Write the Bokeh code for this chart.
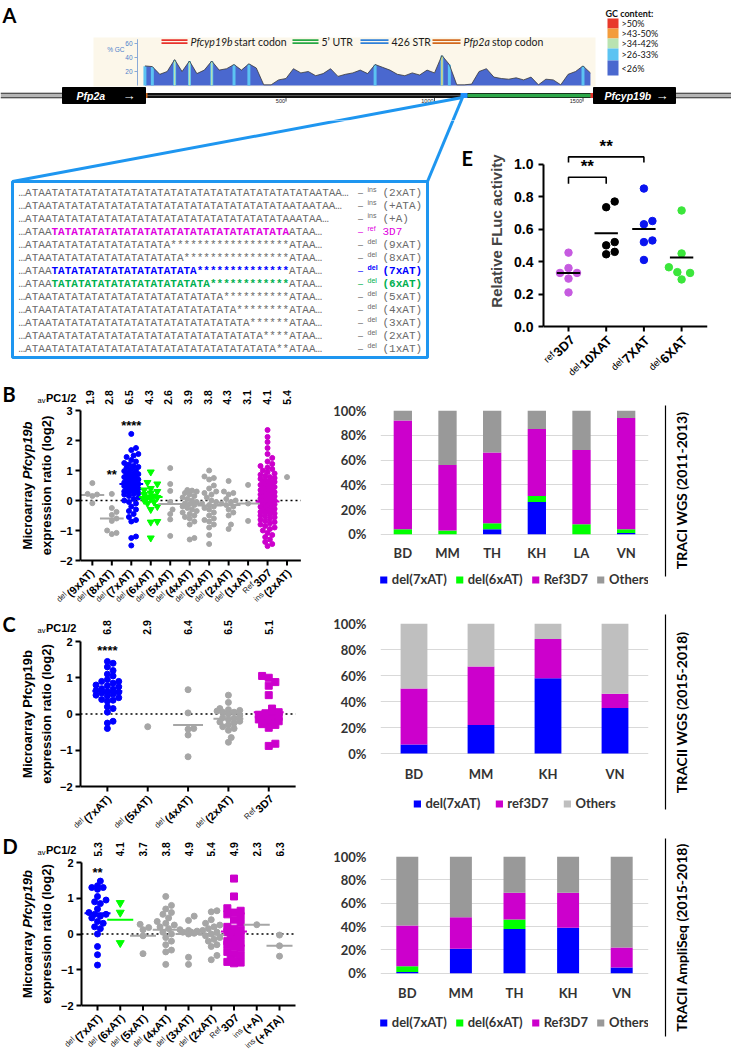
import math
from bokeh.plotting import figure
from bokeh.models import (Range1d, FactorRange, FixedTicker, Label,
                          NumeralTickFormatter, Legend, LegendItem, ColumnDataSource)
from bokeh.layouts import column, row
from bokeh.embed import file_html
from bokeh.resources import INLINE
from bokeh.core.properties import value

SANS = "Liberation Sans"
LATO = "Lato"
MONO = "Liberation Mono"

# ======================= DATA =======================
# --- Panel A: GC content profile (bp position, % GC)
gc_pos = [25, 50, 75, 100, 125, 150, 175, 200, 225, 250, 275, 300, 325, 350, 375, 400,
          425, 450, 475, 500, 525, 550, 575, 600, 625, 650, 675, 700, 725, 750, 775, 800,
          825, 850, 875, 900, 925, 950, 975, 1000, 1025, 1050, 1075, 1100, 1125, 1150,
          1175, 1200, 1225, 1250, 1275, 1300, 1325, 1350, 1375, 1400, 1425, 1450, 1475,
          1500, 1525]
gc_val = [28, 27, 16, 20, 37, 20, 35, 17, 22, 35, 22, 24, 30, 22, 31, 25, 1, 1, 8, 10,
          24, 18, 20, 14, 17, 24, 13, 16, 18, 22, 17, 30, 26, 22, 16, 14, 18, 15, 22, 18,
          43, 30, 1, 1, 2, 20, 24, 12, 10, 9, 11, 8, 12, 1, 9, 8, 1, 16, 20, 28, 18]
gc_ticks = [20, 40, 60]
ruler_bp = [500, 1000, 1500]
gc_legend_labels = [">50%", ">43-50%", ">34-42%", ">26-33%", "<26%"]
gc_legend_colors = ["#E8392A", "#F39C3C", "#B9E3B1", "#5CC3F2", "#4A68CF"]
feat_italic = ["Pfcyp19b", "", "", "Pfp2a"]
feat_rest = ["start codon", "5\u2019 UTR", "426 STR", "stop codon"]
feat_colors = ["#E8322C", "#27A844", "#2F80D8", "#D2691E"]

seq_tags = ["ins", "ins", "ins", "ref", "del", "del", "del", "del", "del", "del", "del", "del", "del"]
seq_names = ["(2xAT)", "(+ATA)", "(+A)", "3D7", "(9xAT)", "(8xAT)", "(7xAT)", "(6xAT)",
             "(5xAT)", "(4xAT)", "(3xAT)", "(2xAT)", "(1xAT)"]
seq_strings = [
    "\u2026ATAA" + "TA" * 20 + "ATAA\u2026",
    "\u2026ATAA" + "TA" * 18 + "ATAATAA\u2026",
    "\u2026ATAA" + "TA" * 18 + "AATAA\u2026",
    "\u2026ATAA" + "TA" * 18 + "ATAA\u2026",
    "\u2026ATAA" + "TA" * 9 + "*" * 18 + "ATAA\u2026",
    "\u2026ATAA" + "TA" * 10 + "*" * 16 + "ATAA\u2026",
    "\u2026ATAA" + "TA" * 11 + "*" * 14 + "ATAA\u2026",
    "\u2026ATAA" + "TA" * 12 + "*" * 12 + "ATAA\u2026",
    "\u2026ATAA" + "TA" * 13 + "*" * 10 + "ATAA\u2026",
    "\u2026ATAA" + "TA" * 14 + "*" * 8 + "ATAA\u2026",
    "\u2026ATAA" + "TA" * 15 + "*" * 6 + "ATAA\u2026",
    "\u2026ATAA" + "TA" * 16 + "*" * 4 + "ATAA\u2026",
    "\u2026ATAA" + "TA" * 17 + "*" * 2 + "ATAA\u2026",
]
seq_colors = [None, None, None, "#E000E0", None, None, "#0000FF", "#00B050", None, None, None, None, None]

# --- Panel E: relative FLuc activity
e_tags = ["ref", "del", "del", "del"]
e_names = ["3D7", "10XAT", "7XAT", "6XAT"]
e_ref3D7 = [0.455, 0.36, 0.33, 0.33, 0.295, 0.21]
e_del10XAT = [0.77, 0.735, 0.52, 0.50, 0.46, 0.445]
e_del7XAT = [0.85, 0.65, 0.63, 0.53, 0.52, 0.41]
e_del6XAT = [0.715, 0.45, 0.365, 0.335, 0.33, 0.29]
e_means = [0.33, 0.575, 0.60, 0.425]
e_colors = ["#C65BE0", "#000000", "#0A14F0", "#3BE63B"]

# --- Panel B: TRACI WGS microarray expression (log2)
b_tags = ["del", "del", "del", "del", "del", "del", "del", "del", "del", "Ref", "ins"]
b_names = ["(9xAT)", "(8xAT)", "(7xAT)", "(6xAT)", "(5xAT)", "(4xAT)", "(3xAT)", "(2xAT)", "(1xAT)", "3D7", "(2xAT)"]
b_del9 = [0.58, 0.22, 0.20, 0.15, -0.09]
b_del8 = [0.22, -0.25, -0.38, -0.48, -0.60, -0.68, -1.00, -1.08, -1.12]
b_del7 = [2.22, 1.75, 1.68, 1.55, 1.50, 1.45, 1.35, 1.30, 1.25, 1.20, 1.15, 1.12, 1.10, 1.05,
          1.00, 0.98, 0.95, 0.90, 0.88, 0.85, 0.82, 0.80, 0.78, 0.75, 0.72, 0.70, 0.68, 0.65,
          0.62, 0.60, 0.58, 0.56, 0.55, 0.54, 0.52, 0.50, 0.48, 0.45, 0.42, 0.40, 0.38, 0.35,
          0.32, 0.30, 0.28, 0.25, 0.22, 0.20, 0.15, 0.10, 0.05, 0.00, -0.05, -0.10, -0.20,
          -0.30, -0.35, -0.45, -0.55, -0.65, -0.70, -1.20, -1.25, -1.50]
b_del6 = [0.95, 0.60, 0.55, 0.40, 0.35, 0.30, 0.25, 0.20, 0.15, 0.12, 0.10, 0.05, 0.00,
          -0.05, -0.10, -0.20, -0.30, -0.70, -0.72, -1.25]
b_del5 = [1.08, 0.55, 0.32, -0.05, -0.30, -0.45, -0.63, -1.18]
b_del4 = [0.35, 0.33, 0.30, 0.25, 0.20, 0.15, 0.10, 0.05, 0.00, -0.05, -0.10, -0.12, -0.15,
          -0.20, -0.25, -0.30, -0.35, -0.40, -0.45, -0.50, -0.55, -0.60, -0.70, -0.80, -1.25, -1.30]
b_del3 = [1.00, 0.80, 0.75, 0.70, 0.50, 0.40, 0.30, 0.25, 0.20, 0.10, 0.00, -0.05, -0.10,
          -0.15, -0.20, -0.25, -0.30, -0.40, -0.50, -0.60, -0.65, -0.70, -0.80, -0.90, -1.15, -1.45]
b_del2 = [0.65, 0.30, 0.25, 0.20, 0.05, 0.00, -0.05, -0.10, -0.15, -0.20, -0.30, -0.40, -0.50, -0.80, -0.95]
b_del1 = [0.52, -0.10, -0.68]
b_ref3D7 = [2.35, 2.12, 1.95, 1.75, 1.55, 1.42, 1.30, 1.22, 1.15, 1.10, 1.05, 1.00, 0.95, 0.90,
            0.86, 0.82, 0.78, 0.75, 0.72, 0.68, 0.65, 0.62, 0.60, 0.57, 0.55, 0.52, 0.50, 0.48,
            0.45, 0.43, 0.40, 0.38, 0.35, 0.33, 0.30, 0.28, 0.26, 0.24, 0.22, 0.20, 0.18, 0.16,
            0.14, 0.12, 0.10, 0.08, 0.06, 0.04, 0.02, 0.00, -0.02, -0.03, -0.05, -0.07, -0.09,
            -0.11, -0.13, -0.15, -0.17, -0.19, -0.21, -0.23, -0.25, -0.28, -0.30, -0.33, -0.35,
            -0.38, -0.40, -0.43, -0.46, -0.50, -0.53, -0.56, -0.60, -0.64, -0.68, -0.72, -0.76,
            -0.80, -0.85, -0.90, -0.95, -1.00, -1.08, -1.15, -1.22, -1.30, -1.38, -1.45, -1.52]
b_ins2 = [0.78]
b_medians = [0.18, -0.60, 0.55, 0.12, -0.12, -0.12, -0.17, -0.15, -0.10, -0.03, None]
b_avpc = ["1.9", "2.8", "6.5", "4.3", "2.6", "3.9", "3.8", "4.3", "3.1", "4.1", "5.4"]

# --- Panel C: TRACII WGS
c_tags = ["del", "del", "del", "del", "Ref"]
c_names = ["(7xAT)", "(5xAT)", "(4xAT)", "(2xAT)", "3D7"]
c_del7 = [1.45, 1.40, 1.30, 1.20, 1.10, 1.05, 0.95, 0.90, 0.90, 0.85, 0.80, 0.78, 0.75, 0.70,
          0.68, 0.65, 0.62, 0.60, 0.58, 0.55, 0.52, 0.50, 0.45, 0.40, 0.38, 0.35, 0.20, 0.15,
          0.05, -0.20, -0.25, -0.40]
c_del5 = [-0.35]
c_del4 = [0.67, 0.03, -0.40, -0.42, -0.58, -1.18]
c_del2 = [0.52, 0.32, 0.15, 0.12, 0.10, 0.08, 0.05, 0.05, 0.00, -0.05, -0.10, -0.12, -0.15,
          -0.20, -0.22, -0.25, -0.30, -0.35, -0.40, -0.45, -0.65, -0.78]
c_ref3D7 = [1.05, 1.00, 0.88, 0.78, 0.52, 0.15, 0.05, 0.02, 0.00, -0.02, -0.05, -0.08, -0.10,
            -0.12, -0.15, -0.20, -0.25, -0.28, -0.30, -0.38, -0.82, -0.88]
c_medians = [0.63, None, -0.30, -0.13, 0.05]
c_avpc = ["6.8", "2.9", "6.4", "6.5", "5.1"]

# --- Panel D: TRACII AmpliSeq
d_tags = ["del", "del", "del", "del", "del", "del", "Ref", "ins", "ins"]
d_names = ["(7xAT)", "(6xAT)", "(5xAT)", "(4xAT)", "(3xAT)", "(2xAT)", "3D7", "(+A)", "(+ATA)"]
d_del7 = [1.48, 1.35, 1.30, 1.30, 1.25, 1.05, 0.95, 0.90, 0.85, 0.70, 0.60, 0.55, 0.55, 0.50,
          0.45, 0.35, 0.30, 0.20, 0.15, 0.00, -0.35, -0.58, -0.87]
d_del6 = [0.87, 0.60, -0.25]
d_del5 = [0.27, 0.18, 0.12, -0.05, -0.55]
d_del4 = [1.05, 0.80, 0.70, 0.60, 0.55, 0.45, 0.35, 0.30, 0.25, 0.20, 0.15, 0.05, 0.00, -0.10,
          -0.20, -0.30, -0.45, -0.50, -0.85]
d_del3 = [0.50, 0.38, 0.12, 0.10, 0.08, 0.05, 0.05, 0.02, 0.00, -0.65, -0.85]
d_del2 = [0.65, 0.62, 0.40, 0.30, 0.25, 0.20, 0.15, 0.10, 0.05, 0.00, -0.05, -0.10, -0.15,
          -0.20, -0.30, -0.35, -0.60, -0.72]
d_ref3D7 = [1.55, 1.05, 0.72, 0.65, 0.60, 0.55, 0.50, 0.40, 0.30, 0.20, 0.15, 0.10, 0.05, 0.00,
            -0.05, -0.10, -0.15, -0.20, -0.20, -0.25, -0.30, -0.35, -0.40, -0.50, -0.55, -0.60,
            -0.70, -0.75, -0.78, -0.80, -0.82]
d_insA = [0.26]
d_insATA = [-0.03, -0.33, -0.62]
d_medians = [0.58, 0.40, -0.05, 0.12, 0.00, -0.02, 0.07, 0.26, -0.33]
d_avpc = ["5.3", "4.1", "3.7", "3.8", "4.9", "5.4", "4.9", "2.3", "6.3"]

# --- Stacked bars (% of isolates)
bar_b_sites = ["BD", "MM", "TH", "KH", "LA", "VN"]
bar_b_del7 = [0, 0, 4, 26, 0, 1]
bar_b_del6 = [4, 3, 5, 5, 8, 3]
bar_b_ref = [88, 53, 57, 54, 60, 90]
bar_b_oth = [8, 44, 34, 15, 32, 6]

bar_c_sites = ["BD", "MM", "KH", "VN"]
bar_c_del7 = [7, 22, 58, 35]
bar_c_ref = [43, 45, 30, 11]
bar_c_oth = [50, 33, 12, 54]

bar_d_sites = ["BD", "MM", "TH", "KH", "VN"]
bar_d_del7 = [1, 21, 38, 39, 5]
bar_d_del6 = [5, 0, 8, 0, 0]
bar_d_ref = [35, 27, 23, 30, 17]
bar_d_oth = [59, 52, 31, 31, 78]

BLUE, GREEN, MAG, GRAY = "#0000FF", "#00FF00", "#CC00CC", "#A6A6A6"

# ======================= HELPERS =======================
_B = {' ': 278, '!': 333, '(': 333, ')': 333, '*': 389, '+': 584, ',': 278, '-': 333,
      '.': 278, '/': 278, ':': 333, '%': 889, '\u2019': 278}
_R = dict(_B)
for ch in "0123456789":
    _B[ch] = 556
    _R[ch] = 556
_B.update(dict(A=722, B=722, C=722, D=722, E=667, F=611, G=778, H=722, I=278, J=556, K=722,
               L=611, M=833, N=722, O=778, P=667, Q=778, R=722, S=667, T=611, U=722, V=667,
               W=944, X=667, Y=667, Z=611, a=556, b=611, c=556, d=611, e=556, f=333, g=611,
               h=611, i=278, j=278, k=556, l=278, m=889, n=611, o=611, p=611, q=611, r=389,
               s=556, t=333, u=611, v=556, w=778, x=556, y=556, z=500))
_R.update(dict(A=667, B=667, C=722, D=722, E=667, F=611, G=778, H=722, I=278, P=667, R=722,
               S=667, T=611, U=722, X=667, a=556, b=556, c=500, d=556, e=556, f=278, g=556,
               h=556, i=222, j=222, k=500, l=222, m=833, n=556, o=556, p=556, q=556, r=333,
               s=500, t=278, u=556, v=500, w=722, x=500, y=500, z=500))


def tw(s, size, bold=True, font=SANS):
    tab = _B if bold else _R
    f = 0.93 if font == LATO else 1.0
    return sum(tab.get(c, 556) for c in s) * size / 1000.0 * f


def label(p, x, y, text, size, color="black", bold=False, italic=False, font=SANS,
          align="left", baseline="middle", angle=0.0):
    style = "bold italic" if (bold and italic) else ("bold" if bold else ("italic" if italic else "normal"))
    p.add_layout(Label(x=x, y=y, text=text, angle=angle, text_align=align, text_baseline=baseline,
                       text_font=font, text_font_size="%.1fpx" % size, text_font_style=style,
                       text_color=color))


def pxconv(px, py):
    return px, -py


def ptext(p, px, py, text, size, color="black", bold=False, italic=False, font=SANS,
          align="left", baseline="middle", angle=0.0, conv=pxconv):
    x, y = conv(px, py)
    label(p, x, y, text, size, color, bold, italic, font, align, baseline, angle)


def rich(p, px, py, runs, angle=0.0, anchor="start", baseline="middle", conv=pxconv):
    ux, uy = math.cos(angle), -math.sin(angle)
    nx, ny = -math.sin(angle), -math.cos(angle)
    widths = [tw(r["t"], r["size"], r.get("bold", True), r.get("font", SANS)) + r.get("gap", 0.0) for r in runs]
    total = sum(widths)
    pos = {"start": 0.0, "center": -total / 2.0, "end": -total}[anchor]
    for r, w in zip(runs, widths):
        rise = r.get("rise", 0.0)
        ptext(p, px + pos * ux + rise * nx, py + pos * uy + rise * ny, r["t"], r["size"],
              r.get("color", "black"), r.get("bold", True), r.get("italic", False),
              r.get("font", SANS), "left", baseline, angle, conv)
        pos += w


def swarm(vals, ppu, d, maxoff):
    n = len(vals)
    order = sorted(range(n), key=lambda k: vals[k])
    cands = [0.0]
    m = 1
    while m * d * 0.5 <= maxoff:
        cands += [m * d * 0.5, -m * d * 0.5]
        m += 1
    placed = []
    offs = [0.0] * n
    for k in order:
        y = vals[k] * ppu
        near = [(px, py) for px, py in placed if abs(py - y) < d]
        best, best_score = 0.0, -1.0
        for c in cands:
            md = min([math.hypot(c - px, y - py) for px, py in near], default=1e9)
            if md >= d * 0.95:
                best = c
                break
            if md > best_score:
                best, best_score = c, md
        placed.append((best, y))
        offs[k] = best
    return offs


def style_yaxis(p, fsize="11px", standoff=3):
    for ax in p.yaxis:
        ax.axis_line_width = 2
        ax.axis_line_color = "black"
        ax.major_tick_line_width = 2
        ax.major_tick_out = 5
        ax.major_tick_in = 0
        ax.minor_tick_line_color = None
        ax.major_label_text_font = SANS
        ax.major_label_text_font_style = "bold"
        ax.major_label_text_font_size = fsize
        ax.major_label_text_color = "black"
        ax.major_label_standoff = standoff
    p.grid.visible = False
    p.outline_line_color = None


def blank(x0, x1, y0, y1, xr=None, yr=None):
    p = figure(width=x1 - x0, height=y1 - y0,
               x_range=xr if xr is not None else Range1d(x0, x1),
               y_range=yr if yr is not None else Range1d(-y1, -y0),
               x_axis_location=None, y_axis_location=None, toolbar_location=None,
               output_backend="svg", min_border=0, frame_align=False)
    p.outline_line_color = None
    p.grid.visible = False
    return p


# ======================= PANEL A (top strip) =======================
def bx(px):
    return (px - 137.0) / 0.297


def gy(py):
    return (85.0 - py) / 0.7


def aconv(px, py):
    return bx(px), gy(py)


pa = blank(0, 731, 0, 120, Range1d(bx(0), bx(731)), Range1d(gy(120), gy(0)))
pa.quad(left=[bx(93)], right=[bx(595)], bottom=[gy(86)], top=[gy(37)], fill_color="#FCF7EA", line_color=None)
pa.varea(x=gc_pos, y1=[0] * len(gc_pos), y2=gc_val, fill_color="#4A68CF")
h1 = [(q, v) for q, v in zip(gc_pos, gc_val) if v > 26]
h2 = [(q, v) for q, v in zip(gc_pos, gc_val) if v > 34]
h3 = [(q, v) for q, v in zip(gc_pos, gc_val) if v > 40]
pa.vbar(x=[q for q, v in h1], top=[v - 0.5 for q, v in h1], bottom=0, width=10, fill_color="#5CC3F2", line_color=None)
pa.vbar(x=[q for q, v in h2], top=[v - 1 for q, v in h2], bottom=0, width=4.5, fill_color="#B9E3B1", line_color=None)
pa.vbar(x=[q for q, v in h3], top=[v - 2 for q, v in h3], bottom=0, width=2.5, fill_color="#F0C64A", line_color=None)
pa.line(gc_pos, gc_val, line_color="#3A3A3A", line_width=0.8)
pa.segment(x0=[bx(137)], y0=[0], x1=[bx(137)], y1=[66], line_color="#8AAAD8", line_width=1)
pa.segment(x0=[bx(134)] * 3, y0=gc_ticks, x1=[bx(137)] * 3, y1=gc_ticks, line_color="#8AAAD8", line_width=1)
pa.text(x=[bx(132)] * 3, y=gc_ticks, text=[str(t) for t in gc_ticks], text_align="right",
        text_baseline="middle", text_font=value(SANS), text_font_size="6.5px", text_color="#4F7FCB")
pa.text(x=[bx(124)], y=[gy(49)], text=["% GC"], text_align="right", text_baseline="middle",
        text_font=value(SANS), text_font_size="6.5px", text_color="#4F7FCB")
feat_px = [(161, 187), (292, 318), (360, 388), (432, 460)]
for (x0, x1), it, rest, col in zip(feat_px, feat_italic, feat_rest, feat_colors):
    pa.segment(x0=[bx(x0)] * 2, y0=[gy(39.6), gy(42.6)], x1=[bx(x1)] * 2, y1=[gy(39.6), gy(42.6)],
               line_color=col, line_width=1.7)
    runs = []
    if it:
        runs.append({"t": it, "size": 10.5, "bold": False, "italic": True, "font": LATO,
                     "color": "#1A1A1A", "gap": 3})
    runs.append({"t": rest, "size": 10.5, "bold": False, "font": LATO, "color": "#1A1A1A"})
    rich(pa, x1 + 3, 41, runs, conv=aconv)
for x0, x1 in [(0, 62), (675, 731)]:
    pa.segment(x0=[bx(x0)], y0=[gy(95)], x1=[bx(x1)], y1=[gy(95)], line_color="#B5B5B5", line_width=3)
    pa.segment(x0=[bx(x0)] * 2, y0=[gy(92.8), gy(97.2)], x1=[bx(x1)] * 2, y1=[gy(92.8), gy(97.2)],
               line_color="#1A1A1A", line_width=1.1)
pa.segment(x0=[bx(145)], y0=[gy(95)], x1=[bx(593)], y1=[gy(95)], line_color="#111111", line_width=5)
pa.segment(x0=[bx(145)], y0=[gy(95)], x1=[bx(593)], y1=[gy(95)], line_color="#555555", line_width=1.2)
pa.segment(x0=[bx(467)], y0=[gy(95)], x1=[bx(591)], y1=[gy(95)], line_color="#2DA84A", line_width=3.5)
pa.segment(x0=[bx(460)], y0=[gy(95)], x1=[bx(467)], y1=[gy(95)], line_color="#1E90FF", line_width=5)
pa.segment(x0=[bx(590)], y0=[gy(95)], x1=[bx(593)], y1=[gy(95)], line_color="#E8322C", line_width=5)
pa.segment(x0=[bx(145)], y0=[gy(95)], x1=[bx(147)], y1=[gy(95)], line_color="#D2691E", line_width=5)
pa.segment(x0=ruler_bp, y0=[gy(97.5)] * 3, x1=ruler_bp, y1=[gy(101)] * 3, line_color="#222222", line_width=0.8)
pa.text(x=ruler_bp, y=[gy(100.5)] * 3, text=[str(b) for b in ruler_bp], x_offset=-1, text_align="right",
        text_baseline="middle", text_font=value(SANS), text_font_size="5.5px", text_color="#222222")
pa.quad(left=[bx(62), bx(593)], right=[bx(145), bx(675)], bottom=[gy(103)] * 2, top=[gy(87)] * 2,
        fill_color="black", line_color="black")
ptext(pa, 76, 95, "Pfp2a", 10.5, "white", True, True, SANS, conv=aconv)
ptext(pa, 122, 95, "\u2192", 13, "white", True, False, SANS, conv=aconv)
ptext(pa, 604, 95, "Pfcyp19b", 10.5, "white", True, True, SANS, conv=aconv)
ptext(pa, 655, 95, "\u2192", 13, "white", True, False, SANS, conv=aconv)
ptext(pa, 605, 13, "GC content:", 9, "#111111", True, False, LATO, conv=aconv)
gl_y = [(18, 28), (28, 38), (38, 48), (48, 60), (60, 75)]
pa.quad(left=[bx(607)] * 5, right=[bx(618)] * 5, top=[gy(a) for a, b in gl_y],
        bottom=[gy(b) for a, b in gl_y], fill_color=gc_legend_colors, line_color=None)
for (a, b), t in zip(gl_y, gc_legend_labels):
    ptext(pa, 621, (a + b) / 2.0, t, 9, "#111111", False, False, LATO, conv=aconv)
ptext(pa, 2, 2, "A", 20, "black", True, False, LATO, baseline="top", conv=aconv)
pa.segment(x0=[bx(462)] * 2, y0=[gy(97)] * 2, x1=[bx(12), bx(427)], y1=[gy(181)] * 2,
           line_color="#1E96F0", line_width=3)

# ======================= PANEL A (sequence box) + E letter =======================
pb0 = blank(0, 476, 120, 380)
pb0.segment(x0=[462] * 2, y0=[-97] * 2, x1=[12, 427], y1=[-181] * 2, line_color="#1E96F0", line_width=3)
pb0.quad(left=[12], right=[427], top=[-181], bottom=[-357], fill_color=None, line_color="#1E96F0", line_width=3)
CW = 6.6
SEQ_GRAY = "#6A6A6A"
for k, (s, col, tag, name) in enumerate(zip(seq_strings, seq_colors, seq_tags, seq_names)):
    yk = 192 + 13.0 * k
    if col is None:
        pieces = [(0, s, SEQ_GRAY, "normal")]
    else:
        pieces = [(0, s[:5], SEQ_GRAY, "normal"), (5, s[5:41], col, "bold"), (41, s[41:], SEQ_GRAY, "normal")]
    for start, txt, c, st in pieces:
        pb0.text(x=[18 + start * CW], y=[-yk], text=[txt], text_font=value(MONO), text_font_size="11px",
                 text_color=c, text_font_style=st, text_baseline="middle", text_align="left")
    lc = col if col is not None else SEQ_GRAY
    pb0.text(x=[360], y=[-yk], text=["\u2013"], text_font=value(SANS), text_font_size="9px",
             text_color=lc, text_baseline="middle", text_align="center")
    pb0.text(x=[367], y=[-(yk - 3)], text=[tag], text_font=value(SANS), text_font_size="7px",
             text_color=lc, text_baseline="middle", text_align="left",
             text_font_style="bold" if col == "#0000FF" else "normal")
    pb0.text(x=[382], y=[-yk], text=[name], text_font=value(MONO), text_font_size="11px",
             text_color=lc, text_baseline="middle", text_align="left",
             text_font_style="bold" if (col is not None and col != "#E000E0") else "normal")
ptext(pb0, 461, 145, "E", 20, "black", True, False, LATO, baseline="top")

# ======================= PANEL E =======================
E_X0, E_FX0, E_FX1, E_FY0, E_AX = 476, 543, 707, 128, 326
E_CORE_Y1 = 333
e_sp = 37.7
e_cx0 = 568
e_ppu = (E_AX - E_FY0) / 1.22
e_xs = -(e_cx0 - E_FX0) / e_sp
pe = figure(width=731 - E_X0, height=E_CORE_Y1 - 120,
            x_range=Range1d(e_xs, e_xs + (E_FX1 - E_FX0) / e_sp),
            y_range=Range1d(-(E_CORE_Y1 - E_AX) / e_ppu, 1.22), x_axis_location=None,
            min_border_left=E_FX0 - E_X0, min_border_right=731 - E_FX1,
            min_border_top=E_FY0 - 120, min_border_bottom=0, frame_align=False,
            toolbar_location=None, output_backend="svg")
style_yaxis(pe, "14px", 5)
pe.yaxis.bounds = (0, 1)
pe.yaxis.ticker = FixedTicker(ticks=[0, 0.2, 0.4, 0.6, 0.8, 1.0])
pe.yaxis.formatter = NumeralTickFormatter(format="0.0")
pe.yaxis.axis_label = "Relative FLuc activity"
pe.yaxis.axis_label_text_font = SANS
pe.yaxis.axis_label_text_font_style = "bold"
pe.yaxis.axis_label_text_font_size = "15px"
pe.yaxis.axis_label_standoff = 6
pe.segment(x0=[e_xs], y0=[0], x1=[e_xs + (E_FX1 - E_FX0) / e_sp], y1=[0], line_color="black", line_width=2)
pe.segment(x0=[0, 1, 2, 3], y0=[0] * 4, x1=[0, 1, 2, 3], y1=[-5.0 / e_ppu] * 4, line_color="black", line_width=2)
for i, vals in enumerate([e_ref3D7, e_del10XAT, e_del7XAT, e_del6XAT]):
    offs = swarm(vals, e_ppu, 8.5, 15)
    pe.scatter(x=[i + o / e_sp for o in offs], y=vals, size=7.5, marker="circle",
               fill_color=e_colors[i], line_color=e_colors[i])
pe.segment(x0=[i - 0.31 for i in range(4)], y0=e_means, x1=[i + 0.31 for i in range(4)], y1=e_means,
           line_color="black", line_width=2)
pe.multi_line(xs=[[0, 0, 1, 1], [0, 0, 2, 2]], ys=[[0.88, 0.92, 0.92, 0.88], [1.01, 1.045, 1.045, 1.01]],
              line_color="black", line_width=1.6)
label(pe, 0.5, 0.925, "**", 17, "black", True, False, SANS, "center", "bottom")
label(pe, 1.0, 1.05, "**", 17, "black", True, False, SANS, "center", "bottom")
pe_bot = blank(E_X0, 731, E_CORE_Y1, 380)
for i, (t, n) in enumerate(zip(e_tags, e_names)):
    rich(pe_bot, e_cx0 + i * e_sp + 4, E_AX + 11,
         [{"t": t, "size": 9.5, "bold": False, "rise": 3, "gap": 1}, {"t": n, "size": 13}],
         angle=math.pi / 4, anchor="end")
e_group = column(pe, pe_bot)


# ======================= SCATTER PANELS B/C/D =======================
def scatter_group(gy0, top_h, core_h, bot_h, frame_l, frame_top, axis_py, cx0, sp, yr, x_end,
                  series, tags, names, medians, colors, markers, msizes, medw, avpc, avpc_py,
                  stars, italic_gene, ylab_x, letter, maxoff, left_w=56, W=330):
    core_y0 = gy0 + top_h
    core_y1 = core_y0 + core_h
    ppu = (axis_py - frame_top) / float(yr[1] - yr[0])
    ystart = yr[0] - (core_y1 - axis_py) / ppu
    xs = -(cx0 - frame_l) / sp
    xe = xs + (W - frame_l) / sp

    def dx(px):
        return xs + (px - frame_l) / sp

    core = figure(width=W - left_w, height=core_h, x_range=Range1d(xs, xe),
                  y_range=Range1d(ystart, yr[1]), x_axis_location=None,
                  min_border_left=frame_l - left_w, min_border_right=0,
                  min_border_top=frame_top - core_y0, min_border_bottom=0, frame_align=False,
                  toolbar_location=None, output_backend="svg")
    style_yaxis(core, "11px", 3)
    core.yaxis.bounds = (yr[0], yr[1])
    core.yaxis.ticker = FixedTicker(ticks=list(range(yr[0], yr[1] + 1)))
    n = len(series)
    core.segment(x0=[xs], y0=[0], x1=[dx(x_end)], y1=[0], line_color="black", line_width=1.5,
                 line_dash="2 3")
    core.segment(x0=[xs], y0=[yr[0]], x1=[dx(x_end)], y1=[yr[0]], line_color="black", line_width=2)
    core.segment(x0=list(range(n)), y0=[yr[0]] * n, x1=list(range(n)), y1=[yr[0] - 5.0 / ppu] * n,
                 line_color="black", line_width=2)
    for i, vals in enumerate(series):
        offs = swarm(vals, ppu, msizes[i] * 0.95, maxoff)
        core.scatter(x=[i + o / sp for o in offs], y=vals, marker=markers[i], size=msizes[i],
                     fill_color=colors[i], line_color=colors[i])
    hw = medw / 2.0 / sp
    mi = [i for i, m in enumerate(medians) if m is not None]
    core.segment(x0=[i - hw for i in mi], y0=[medians[i] for i in mi], x1=[i + hw for i in mi],
                 y1=[medians[i] for i in mi], line_color=[colors[i] for i in mi], line_width=2)
    for i, yv, t in stars:
        label(core, i, yv, t, 13, "black", True, False, SANS, "center", "middle")

    top = blank(0, W, gy0, core_y0)
    ptext(top, 2, gy0 + 1, letter, 20, "black", True, False, LATO, baseline="top")
    rich(top, 37, avpc_py, [{"t": "av", "size": 7.5, "bold": False, "rise": -3, "gap": 0.5},
                            {"t": "PC1/2", "size": 11}])
    for i, t in enumerate(avpc):
        ptext(top, cx0 + i * sp, avpc_py, t, 10.5, "black", True, False, SANS, "center", "middle",
              angle=math.pi / 2)

    left = blank(0, left_w, core_y0, core_y1)
    cy = (frame_top + axis_py) / 2.0
    rich(left, ylab_x[0], cy, [{"t": "Microarray ", "size": 13},
                               {"t": "Pfcyp19b", "size": 13, "italic": italic_gene}],
         angle=math.pi / 2, anchor="center")
    rich(left, ylab_x[1], cy, [{"t": "expression ratio (log2)", "size": 13}],
         angle=math.pi / 2, anchor="center")

    bot = blank(0, W, core_y1, core_y1 + bot_h)
    for i, (t, nme) in enumerate(zip(tags, names)):
        rich(bot, cx0 + i * sp + 3, axis_py + 10,
             [{"t": t, "size": 8, "bold": False, "rise": 3, "gap": 1, "color": "#222222"},
              {"t": nme, "size": 11}], angle=math.pi / 4, anchor="end")
    return column(top, row(left, core), bot)


gB = scatter_group(380, 25, 161, 44, 77, 410, 560, 89, 19.7, (-2, 3), 300,
                   [b_del9, b_del8, b_del7, b_del6, b_del5, b_del4, b_del3, b_del2, b_del1, b_ref3D7, b_ins2],
                   b_tags, b_names, b_medians,
                   [GRAY, GRAY, BLUE, GREEN, GRAY, GRAY, GRAY, GRAY, GRAY, MAG, GRAY],
                   ["circle"] * 3 + ["inverted_triangle"] + ["circle"] * 7,
                   [5, 5, 5, 7, 5, 5, 5, 5, 5, 5, 5], 24, b_avpc, 397,
                   [(1, 0.88, "**"), (2, 2.5, "****")], True, (27, 46), "B", 8.3)

gC = scatter_group(610, 25, 157, 40, 79, 641, 786, 106, 40.5, (-2, 2), 295,
                   [c_del7, c_del5, c_del4, c_del2, c_ref3D7], c_tags, c_names, c_medians,
                   [BLUE, GRAY, GRAY, GRAY, MAG], ["circle"] * 4 + ["square"],
                   [6, 6, 6, 6, 7], 30, c_avpc, 627, [(0, 1.75, "****")], False, (27, 46), "C", 13)

gD = scatter_group(832, 24, 155, 38, 81, 862, 1005, 97, 22.75, (-2, 2), 295,
                   [d_del7, d_del6, d_del5, d_del4, d_del3, d_del2, d_ref3D7, d_insA, d_insATA],
                   d_tags, d_names, d_medians,
                   [BLUE, GREEN, GRAY, GRAY, GRAY, GRAY, MAG, GRAY, GRAY],
                   ["circle", "inverted_triangle"] + ["circle"] * 4 + ["square", "circle", "circle"],
                   [6, 8, 6, 6, 6, 6, 7, 6, 6], 26, d_avpc, 849, [(0, 1.72, "**")], True, (27, 46), "D", 9.5)


# ======================= BAR PANELS =======================
def bar_panel(H, gy0, sites, stacks, names, colors, top_py, zero_py, y_start, bar_w, lab_py, spacing):
    ppp = (zero_py - top_py) / 100.0
    bottom_py = zero_py + (-y_start) * ppp
    p = figure(width=330, height=H, x_range=FactorRange(factors=sites, range_padding=0),
               y_range=Range1d(y_start, 100), x_axis_location=None,
               min_border_left=38, min_border_right=12, min_border_top=int(round(top_py - gy0)),
               min_border_bottom=int(round(gy0 + H - bottom_py)), frame_align=False,
               toolbar_location=None, output_backend="svg")
    p.outline_line_color = None
    p.xgrid.visible = False
    p.ygrid.grid_line_color = "#D9D9D9"
    p.ygrid.grid_line_width = 1
    ax = p.yaxis[0]
    ax.ticker = FixedTicker(ticks=[0, 20, 40, 60, 80, 100])
    ax.major_label_overrides = {0: "0%", 20: "20%", 40: "40%", 60: "60%", 80: "80%", 100: "100%"}
    ax.axis_line_color = None
    ax.major_tick_line_color = None
    ax.minor_tick_line_color = None
    ax.major_label_text_font = LATO
    ax.major_label_text_font_style = "bold"
    ax.major_label_text_font_size = "13px"
    ax.major_label_text_color = "#333333"
    ax.major_label_standoff = 8
    data = {"site": sites}
    keys = []
    for k, s in enumerate(stacks):
        data["s%d" % k] = s
        keys.append("s%d" % k)
    rs = p.vbar_stack(keys, x="site", width=bar_w, color=colors, line_color=None,
                      source=ColumnDataSource(data))
    lab_y = (zero_py - lab_py) / ppp
    p.text(x=sites, y=[lab_y] * len(sites), text=sites, text_align="center", text_baseline="middle",
           text_font=value(LATO), text_font_size="13px", text_font_style="bold", text_color="#333333")
    leg = Legend(items=[LegendItem(label=n, renderers=[r]) for n, r in zip(names, rs)],
                 orientation="horizontal", location="bottom_center", glyph_width=9, glyph_height=9,
                 label_standoff=4, spacing=spacing, padding=0, margin=0, label_height=14,
                 label_text_font=LATO, label_text_font_style="bold", label_text_font_size="13px",
                 label_text_color="#333333", border_line_color=None, background_fill_alpha=0)
    p.add_layout(leg)
    return p


bB = bar_panel(230, 380, bar_b_sites, [bar_b_del7, bar_b_del6, bar_b_ref, bar_b_oth],
               ["del(7xAT)", "del(6xAT)", "Ref3D7", "Others"], [BLUE, GREEN, MAG, "#999999"],
               410, 534, -43, 0.41, 553, 8)
bC = bar_panel(222, 610, bar_c_sites, [bar_c_del7, bar_c_ref, bar_c_oth],
               ["del(7xAT)", "ref3D7", "Others"], [BLUE, MAG, "#BFBFBF"],
               623, 753, -44.5, 0.40, 773, 14)
bD = bar_panel(217, 832, bar_d_sites, [bar_d_del7, bar_d_del6, bar_d_ref, bar_d_oth],
               ["del(7xAT)", "del(6xAT)", "Ref3D7", "Others"], [BLUE, GREEN, MAG, "#999999"],
               856, 973, -49, 0.41, 993, 8)


# ======================= SIDE LABELS =======================
def side_fig(y0, y1, text, l0, l1, cy):
    p = blank(660, 731, y0, y1)
    p.segment(x0=[665], y0=[-l0], x1=[665], y1=[-l1], line_color="black", line_width=1.2)
    p.text(x=[681], y=[-cy], text=[text], angle=math.pi / 2, text_align="center", text_baseline="middle",
           text_font=value(LATO), text_font_size="14px", text_font_style="bold", text_color="black")
    return p


tB = side_fig(380, 610, "TRACI WGS (2011-2013)", 405, 576, 490)
tC = side_fig(610, 832, "TRACII WGS (2015-2018)", 614, 809, 712)
tD = side_fig(832, 1049, "TRACII AmpliSeq (2015-2018)", 838, 1036, 937)

layout = column(
    pa,
    row(pb0, e_group),
    row(gB, bB, tB),
    row(gC, bC, tC),
    row(gD, bD, tD),
)

open("out.html", "w").write(file_html(layout, INLINE))
